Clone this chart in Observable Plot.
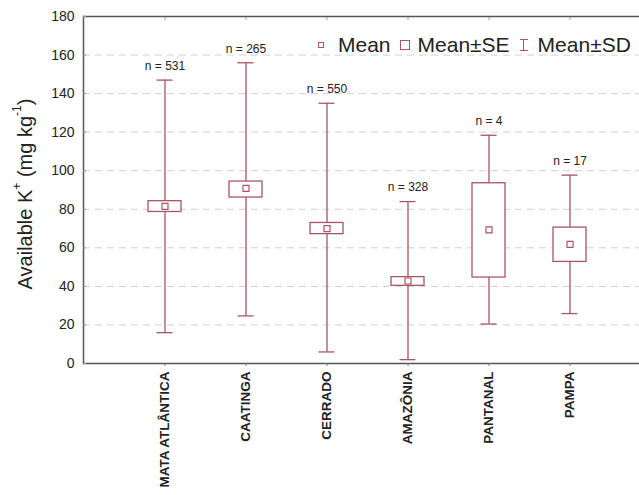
<!DOCTYPE html>
<html>
<head>
<meta charset="utf-8">
<script src="https://cdn.jsdelivr.net/npm/d3@7"></script>
<script src="https://cdn.jsdelivr.net/npm/@observablehq/plot@0.6"></script>
<style>
  html, body { margin: 0; padding: 0; background: #fff; overflow: hidden; }
  #wrap { position: relative; width: 639px; height: 495px; font-family: "Liberation Sans", Arial, sans-serif; }
  #ylabel { position: absolute; left: 25px; top: 194px; transform: translate(-50%, -50%) rotate(-90deg); white-space: nowrap; font-size: 20px; color: #222; }
  #ylabel sup { font-size: 12px; position: relative; top: -3px; }
  #legend { position: absolute; left: 318px; top: 33px; display: flex; align-items: center; font-size: 21px; color: #222; white-space: nowrap; }
  .sym { display: inline-block; box-sizing: border-box; border: 1.3px solid #a85565; }
  .m { width: 6px; height: 6px; margin-right: 14px; }
  .se { width: 10px; height: 10px; margin-left: 9px; margin-right: 8px; }
  .sd { width: 8px; height: 12px; margin-left: 10px; margin-right: 10px; border: none; position: relative; }
  .sd::before { content: ""; position: absolute; left: 3.3px; top: 0; width: 1.3px; height: 12px; background: #a85565; }
  .sd::after { content: ""; position: absolute; left: 0; top: 0; width: 8px; height: 12px; box-sizing: border-box; border-top: 1.3px solid #a85565; border-bottom: 1.3px solid #a85565; }
</style>
</head>
<body>
<div id="wrap">
  <div id="chart"></div>
  <div id="ylabel">Available K<sup>+</sup> (mg kg<sup>-1</sup>)</div>
  <div id="legend">
    <span class="sym m"></span><span>Mean</span>
    <span class="sym se"></span><span>Mean±SE</span>
    <span class="sym sd"></span><span>Mean±SD</span>
  </div>
</div>
<script>
const biomes = ["MATA ATLÂNTICA", "CAATINGA", "CERRADO", "AMAZÔNIA", "PANTANAL", "PAMPA"];
const mean   = [81.5, 90.8, 70.0, 42.8, 69.3, 61.8];
const seLow  = [78.6, 86.1, 67.1, 40.3, 44.6, 52.7];
const seHigh = [84.2, 94.4, 72.9, 44.8, 93.5, 70.5];
const sdLow  = [16, 24.7, 6, 2, 20.5, 25.9];
const sdHigh = [147, 156, 135, 84, 118.4, 97.7];
const nLabels = ["n = 531", "n = 265", "n = 550", "n = 328", "n = 4", "n = 17"];
const yTicks = [0, 20, 40, 60, 80, 100, 120, 140, 160, 180];
const gridTicks = [20, 40, 60, 80, 100, 120, 140, 160];

const data = biomes.map((b, i) => ({
  biome: b, mean: mean[i], seLow: seLow[i], seHigh: seHigh[i],
  sdLow: sdLow[i], sdHigh: sdHigh[i], n: nLabels[i]
}));

const col = "#a85565";
const frameCol = "#555";

const chart = Plot.plot({
  width: 639,
  height: 495,
  marginLeft: 83,
  marginRight: 0,
  marginTop: 16,
  marginBottom: 132,
  style: { fontFamily: "Liberation Sans, Arial, sans-serif", color: "#222", background: "#fff" },
  x: { type: "band", domain: biomes, range: [122.65, 610.45], paddingInner: 0.594, paddingOuter: 0.297 },
  y: { domain: [0, 180] },
  marks: [
    Plot.gridY(gridTicks, { stroke: "#d0d0d0", strokeOpacity: 1, strokeDasharray: "7,5", strokeWidth: 1 }),
    Plot.ruleY([0, 180], { stroke: frameCol, strokeWidth: 1.5 }),
    Plot.frame({ anchor: "left", stroke: frameCol, strokeWidth: 1.5 }),
    Plot.axisY(yTicks, { tickSize: 0, tickPadding: 9, fontSize: 14, label: null }),
    Plot.axisY(yTicks, { tickSize: -3, text: null, label: null, stroke: "#999" }),
    Plot.axisX({ tickSize: 3, tickRotate: -90, fontSize: 13.5, fontWeight: "bold", tickPadding: 5, label: null, stroke: "#777" }),
    Plot.axisX({ anchor: "top", tickSize: -3, text: null, label: null, stroke: "#999" }),
    Plot.ruleX(data, { x: "biome", y1: "sdLow", y2: "sdHigh", stroke: col, strokeWidth: 1.3 }),
    Plot.tickY(data, { x: "biome", y: "sdLow", stroke: col, strokeWidth: 1.3, insetLeft: 8.5, insetRight: 8.5 }),
    Plot.tickY(data, { x: "biome", y: "sdHigh", stroke: col, strokeWidth: 1.3, insetLeft: 8.5, insetRight: 8.5 }),
    Plot.rect(data, { x: "biome", y1: "seLow", y2: "seHigh", fill: "white", stroke: col, strokeWidth: 1.3 }),
    Plot.dot(data, { x: "biome", y: "mean", symbol: "square", r: 3.4, stroke: col, strokeWidth: 1.2, fill: "white" }),
    Plot.text(data, { x: "biome", y: "sdHigh", text: "n", dy: -14, fontSize: 12, fill: "#222" })
  ]
});
document.getElementById("chart").appendChild(chart);
</script>
</body>
</html>
